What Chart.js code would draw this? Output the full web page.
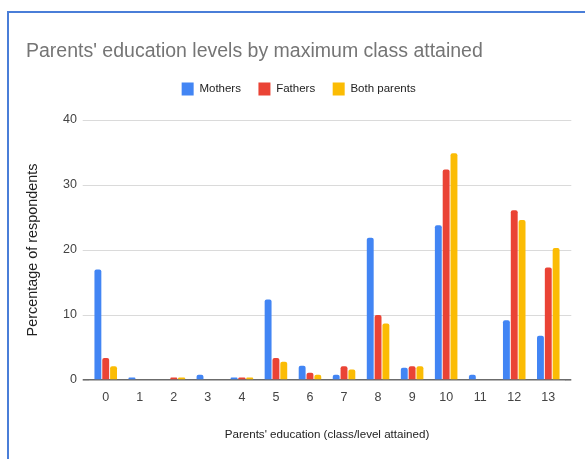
<!DOCTYPE html>
<html>
<head>
<meta charset="utf-8">
<script src="https://cdn.jsdelivr.net/npm/chart.js@4"></script>
<style>
  html, body { margin: 0; padding: 0; background: #fff; }
  #wrap { position: relative; width: 585px; height: 459px; overflow: hidden; }
  #frame { position: absolute; left: 7px; top: 11px; width: 700px; height: 600px;
           border-left: 2px solid #4a7ed8; border-top: 2px solid #4a7ed8; }
  canvas { position: absolute; left: 0; top: 0; }
</style>
</head>
<body>
<div id="wrap">
  <div id="frame"></div>
  <canvas id="my-chart" width="585" height="459"></canvas>
</div>
<script>
'use strict';

//************ DATA ************
let levels = ['0', '1', '2', '3', '4', '5', '6', '7', '8', '9', '10', '11', '12', '13'];
let mothers = [17.0, 0.4, 0, 0.8, 0.4, 12.4, 2.2, 0.8, 21.9, 1.9, 23.8, 0.8, 9.2, 6.8];
let fathers = [3.4, 0, 0.4, 0, 0.4, 3.4, 1.1, 2.1, 10.0, 2.1, 32.4, 0, 26.1, 17.3];
let bothParents = [2.1, 0, 0.4, 0, 0.4, 2.8, 0.8, 1.6, 8.7, 2.1, 34.9, 0, 24.6, 20.3];
let yTicks = [0, 10, 20, 30, 40];

let font = '"Liberation Sans", Arial, sans-serif';

let ctx = document.getElementById('my-chart');

// legend sits closer to the title than chart.js would put it
let legendNudge = {
  id: 'legendNudge',
  afterLayout(chart) {
    let lg = chart.legend;
    lg.top -= 14.5;
    lg.bottom -= 14.5;
  }
};

function gridColor(c) {
  return c.tick && c.tick.value === 0 ? '#6b6b6b' : '#dadada';
}
function gridWidth(c) {
  return c.tick && c.tick.value === 0 ? 1.6 : 1;
}

function bar(label, data, color) {
  return {
    label: label,
    data: data,
    backgroundColor: color,
    borderColor: color,
    borderWidth: 0,
    borderRadius: 2,
    borderSkipped: 'start',
    barPercentage: 0.88,
    categoryPercentage: 0.69
  };
}

let chartObj = {
  type: 'bar',
  data: {
    labels: levels,
    datasets: [
      bar('Mothers', mothers, '#4285f4'),
      bar('Fathers', fathers, '#ea4335'),
      bar('Both parents', bothParents, '#fbbc04')
    ]
  },
  options: {
    responsive: false,
    animation: false,
    layout: { padding: { left: 26, right: 13.7, top: 12, bottom: 0 } },
    plugins: {
      title: {
        display: true,
        text: "Parents' education levels by maximum class attained",
        align: 'start',
        color: '#757575',
        font: { family: font, size: 19.5, weight: 'normal', lineHeight: 1 },
        padding: { top: 30, bottom: 18 }
      },
      legend: {
        display: true,
        position: 'top',
        labels: {
          boxWidth: 12,
          boxHeight: 13,
          padding: 17.5,
          color: '#222',
          font: { family: font, size: 11.5 }
        }
      },
      tooltip: { enabled: false }
    },
    scales: {
      x: {
        grid: { display: false, drawTicks: false },
        border: { display: false },
        ticks: { color: '#444', padding: 10, font: { family: font, size: 12.5 } },
        title: {
          display: true,
          text: "Parents' education (class/level attained)",
          color: '#222',
          font: { family: font, size: 11.6 },
          padding: { top: 0, bottom: 17 }
        },
        afterFit(scale) { scale.height = 79; }
      },
      y: {
        min: 0,
        max: 40,
        afterBuildTicks(scale) { scale.ticks = yTicks.map(v => ({ value: v })); },
        grid: { drawTicks: true, tickLength: 6, color: gridColor, lineWidth: gridWidth },
        border: { display: false },
        ticks: { color: '#444', padding: 5.7, font: { family: font, size: 12.5 } },
        title: {
          display: true,
          text: 'Percentage of respondents',
          color: '#222',
          font: { family: font, size: 14.4, lineHeight: 1 },
          padding: { top: 0, bottom: 0 }
        },
        afterFit(scale) { scale.width = 62.7; }
      },
      // only carries the short right-hand ends of the gridlines
      yRight: {
        position: 'right',
        min: 0,
        max: 40,
        afterBuildTicks(scale) { scale.ticks = yTicks.map(v => ({ value: v })); },
        grid: { drawOnChartArea: false, drawTicks: true, tickLength: 6, color: gridColor, lineWidth: gridWidth },
        border: { display: false },
        ticks: { display: false }
      }
    }
  },
  plugins: [legendNudge]
};

new Chart(ctx, chartObj);
</script>
</body>
</html>
